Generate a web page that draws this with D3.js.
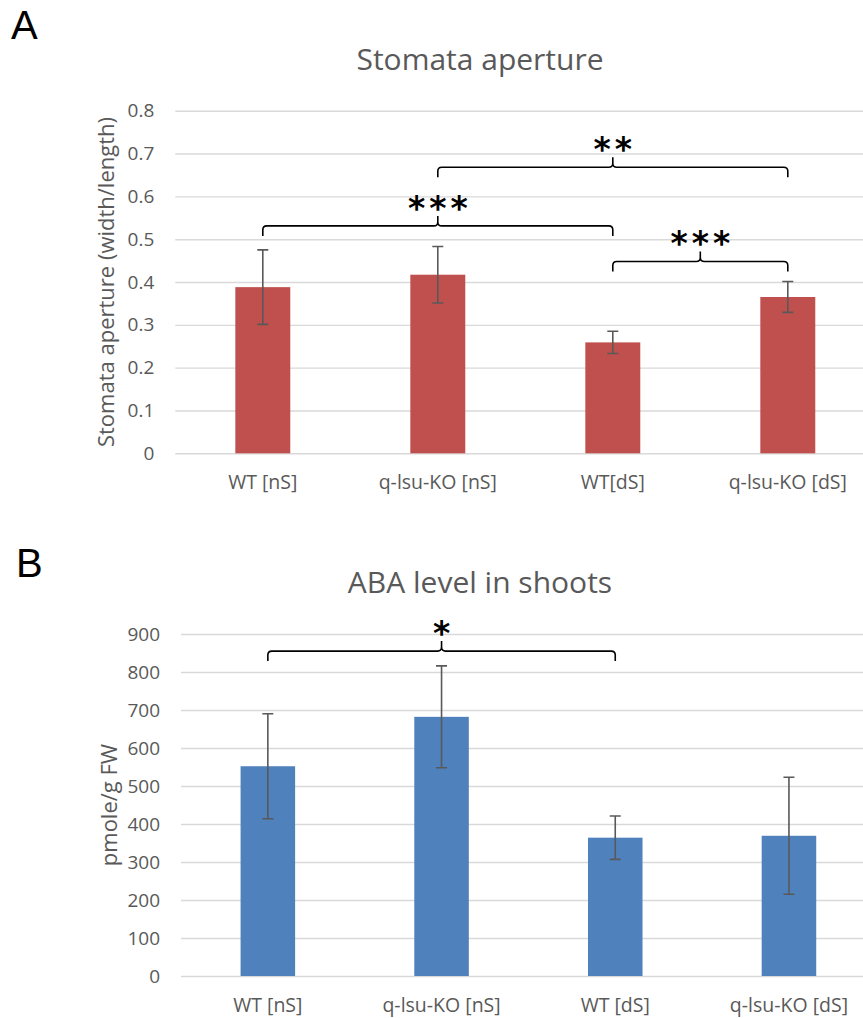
<!DOCTYPE html>
<html>
<head>
<meta charset="utf-8">
<script src="https://cdn.jsdelivr.net/npm/d3@7"></script>
<style>
  html, body { margin: 0; padding: 0; background: #fff; overflow: hidden; }
  svg { display: block; font-family: "Open Sans", sans-serif; }
</style>
</head>
<body>
<svg id="figure" width="863" height="1018"></svg>
<script>
//  data, panel A
const categories_a = ["WT [nS]", "q-lsu-KO [nS]", "WT[dS]", "q-lsu-KO [dS]"];
const aperture_mean = [0.388, 0.417, 0.259, 0.365];
const aperture_err = [0.087, 0.066, 0.026, 0.036];
const aperture_ticks = [0, 0.1, 0.2, 0.3, 0.4, 0.5, 0.6, 0.7, 0.8];
const aperture_sig = [
  {from: 0, to: 2, level: 0.531, label: "***"},
  {from: 1, to: 3, level: 0.668, label: "**"},
  {from: 2, to: 3, level: 0.448, label: "***"}
];

//  data, panel B
const categories_b = ["WT [nS]", "q-lsu-KO [nS]", "WT [dS]", "q-lsu-KO [dS]"];
const aba_mean = [552, 682, 364, 369];
const aba_err = [138, 134, 57, 154];
const aba_ticks = [0, 100, 200, 300, 400, 500, 600, 700, 800, 900];
const aba_sig = [
  {from: 0, to: 2, level: 855, label: "*"}
];

const text_color = "#595959";
const grid_color = "#d9d9d9";

//  one bar chart with error bars and significance brackets
function draw_panel(svg, cfg) {
  const g = svg.append("g");

  const x = d3.scaleBand()
    .domain(cfg.categories)
    .range([cfg.left, cfg.right])
    .paddingInner(0.686)
    .paddingOuter(0.343);

  const y = d3.scaleLinear()
    .domain([0, cfg.ticks[cfg.ticks.length - 1]])
    .range([cfg.bottom, cfg.top]);

  //  panel letter
  g.append("text")
    .attr("x", cfg.letter_x)
    .attr("y", cfg.letter_y)
    .attr("font-family", "Liberation Sans, Arial, sans-serif")
    .attr("font-size", 40)
    .attr("fill", "#000")
    .text(cfg.letter);

  //  title
  g.append("text")
    .attr("x", 480)
    .attr("y", cfg.title_y)
    .attr("text-anchor", "middle")
    .attr("font-size", 30)
    .attr("fill", text_color)
    .text(cfg.title);

  //  grid + y axis labels
  const yAxis = d3.axisLeft(y)
    .tickValues(cfg.ticks)
    .tickSize(-(cfg.right - cfg.left))
    .tickPadding(21)
    .tickFormat(cfg.tick_format);

  const ax = g.append("g")
    .attr("transform", `translate(${cfg.left},0)`)
    .call(yAxis);
  ax.select(".domain").remove();
  ax.selectAll(".tick line")
    .attr("stroke", grid_color)
    .attr("stroke-width", 1.4);
  ax.selectAll(".tick text")
    .attr("font-size", 19)
    .attr("font-family", "Open Sans, sans-serif")
    .attr("fill", text_color);

  //  x labels
  g.selectAll(".xlab")
    .data(cfg.categories)
    .join("text")
      .attr("x", d => x(d) + x.bandwidth() / 2)
      .attr("y", cfg.bottom + 36)
      .attr("text-anchor", "middle")
      .attr("font-size", 19.5)
      .attr("fill", text_color)
      .text(d => d);

  //  y title
  g.append("text")
    .attr("transform", `translate(${cfg.ytitle_x},${(cfg.top + cfg.bottom) / 2}) rotate(-90)`)
    .attr("text-anchor", "middle")
    .attr("dominant-baseline", "central")
    .attr("font-size", 22)
    .attr("fill", text_color)
    .text(cfg.ytitle);

  //  bars
  g.selectAll(".bar")
    .data(cfg.values)
    .join("rect")
      .attr("x", (d, i) => x(cfg.categories[i]))
      .attr("y", d => y(d))
      .attr("width", x.bandwidth())
      .attr("height", d => y(0) - y(d))
      .attr("fill", cfg.color);

  //  error bars
  const cap = 5.5;
  cfg.values.forEach((v, i) => {
    const cx = x(cfg.categories[i]) + x.bandwidth() / 2;
    const lo = y(v - cfg.errors[i]);
    const hi = y(v + cfg.errors[i]);
    g.append("path")
      .attr("d", `M${cx},${lo}V${hi}M${cx - cap},${hi}H${cx + cap}M${cx - cap},${lo}H${cx + cap}`)
      .attr("fill", "none")
      .attr("stroke", "#595959")
      .attr("stroke-width", 1.6);
  });

  //  significance brackets
  cfg.sig.forEach(s => {
    const x1 = x(cfg.categories[s.from]) + x.bandwidth() / 2;
    const x2 = x(cfg.categories[s.to]) + x.bandwidth() / 2;
    const xm = (x1 + x2) / 2;
    const yh = y(s.level);
    const r = 4;
    const d = `M${x1},${yh + 10}L${x1},${yh + r}Q${x1},${yh} ${x1 + r},${yh}` +
      `L${xm - r},${yh}Q${xm},${yh} ${xm},${yh - r}L${xm},${yh - 10}` +
      `M${xm},${yh - r}Q${xm},${yh} ${xm + r},${yh}` +
      `L${x2 - r},${yh}Q${x2},${yh} ${x2},${yh + r}L${x2},${yh + 10}`;
    g.append("path")
      .attr("d", d)
      .attr("fill", "none")
      .attr("stroke", "#000")
      .attr("stroke-width", 1.6);
    g.append("text")
      .attr("x", xm + 2)
      .attr("y", yh - 6)
      .attr("text-anchor", "middle")
      .attr("font-family", "DejaVu Sans, sans-serif")
      .attr("font-weight", "bold")
      .attr("font-size", 33)
      .attr("letter-spacing", 4)
      .attr("fill", "#000")
      .text(s.label);
  });
}

//  main
function figure_main() {
  const svg = d3.select("#figure");
  svg.selectAll("*").remove();

  draw_panel(svg, {
    letter: "A", letter_x: 11, letter_y: 39,
    title: "Stomata aperture", title_y: 70,
    categories: categories_a, values: aperture_mean, errors: aperture_err,
    ticks: aperture_ticks, tick_format: d => d === 0 ? "0" : d3.format(".1f")(d),
    sig: aperture_sig,
    left: 175.3, right: 875.3, top: 110.7, bottom: 453.3,
    ytitle: "Stomata aperture (width/length)", ytitle_x: 105,
    color: "#c0504d"
  });

  draw_panel(svg, {
    letter: "B", letter_x: 16, letter_y: 577,
    title: "ABA level in shoots", title_y: 593,
    categories: categories_b, values: aba_mean, errors: aba_err,
    ticks: aba_ticks, tick_format: d3.format("d"),
    sig: aba_sig,
    left: 181, right: 875.8, top: 634, bottom: 976,
    ytitle: "pmole/g FW", ytitle_x: 108,
    color: "#4f81bd"
  });
}

figure_main();
</script>
</body>
</html>
